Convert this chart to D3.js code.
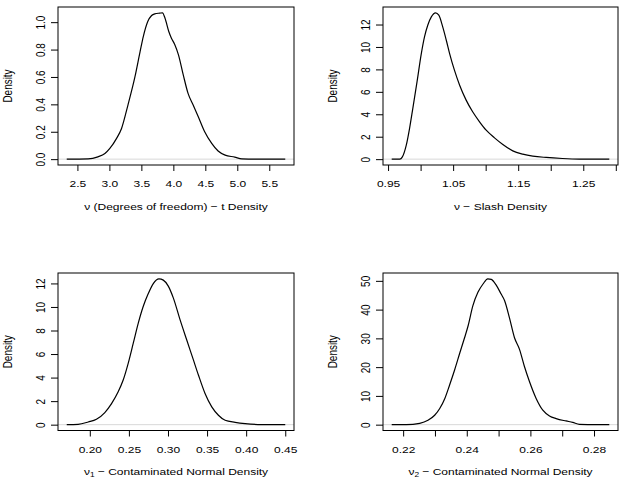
<!DOCTYPE html>
<html>
<head>
<meta charset="utf-8">
<script src="https://cdn.jsdelivr.net/npm/d3@7"></script>
<style>
  html, body { margin: 0; padding: 0; background: #fff; }
  svg { display: block; }
  text { font-family: "Liberation Sans", Arial, Helvetica, sans-serif; fill: #000; }
</style>
</head>
<body>
<svg id="chart" width="625" height="482"></svg>
<script>
// ---------- DATA ----------
// Panel 1: nu (degrees of freedom) - t density
const tX = [2.333, 2.667, 2.82, 2.93, 3.007, 3.11, 3.19, 3.29, 3.40, 3.48, 3.53, 3.60, 3.66, 3.71, 3.79, 3.83, 3.87, 3.93, 3.97, 4.02, 4.08, 4.155, 4.23, 4.31, 4.39, 4.49, 4.60, 4.70, 4.81, 4.96, 5.07, 5.28, 5.75];
const tY = [0.000, 0.002, 0.017, 0.041, 0.078, 0.150, 0.224, 0.395, 0.602, 0.785, 0.895, 1.005, 1.049, 1.061, 1.066, 1.068, 1.029, 0.930, 0.883, 0.839, 0.761, 0.615, 0.480, 0.395, 0.310, 0.200, 0.115, 0.059, 0.029, 0.015, 0.002, 0.000, 0.000];
const tTicksX = [2.5, 3.0, 3.5, 4.0, 4.5, 5.0, 5.5];
const tLabelsX = ["2.5", "3.0", "3.5", "4.0", "4.5", "5.0", "5.5"];
const tTicksY = [0, 0.2, 0.4, 0.6, 0.8, 1.0];
const tLabelsY = ["0.0", "0.2", "0.4", "0.6", "0.8", "1.0"];

// Panel 2: nu - slash density
const slashX = [0.9556, 0.968, 0.972, 0.978, 0.983, 0.988, 0.9945, 1.0011, 1.006, 1.011, 1.0165, 1.023, 1.028, 1.034, 1.0395, 1.0446, 1.052, 1.060, 1.070, 1.080, 1.0906, 1.1008, 1.1136, 1.1264, 1.1417, 1.157, 1.1724, 1.193, 1.218, 1.244, 1.29];
const slashY = [0, 0, 0.2, 1.25, 2.73, 4.51, 6.89, 9.41, 10.9, 11.94, 12.68, 13.04, 12.83, 11.79, 10.6, 9.41, 7.93, 6.59, 5.26, 4.22, 3.33, 2.58, 1.90, 1.31, 0.74, 0.45, 0.27, 0.15, 0.06, 0.01, 0];
const slashTicksX = [0.95, 1.00, 1.05, 1.10, 1.15, 1.20, 1.25, 1.30];
const slashLabelsX = ["0.95", "", "1.05", "", "1.15", "", "1.25", ""];
const slashTicksY = [0, 2, 4, 6, 8, 10, 12];
const slashLabelsY = ["0", "2", "4", "6", "8", "10", "12"];

// Panel 3: nu1 - contaminated normal density
const cn1X = [0.1705, 0.185, 0.198, 0.2085, 0.2192, 0.2278, 0.2363, 0.2427, 0.2491, 0.2556, 0.262, 0.2684, 0.2748, 0.2812, 0.2885, 0.294, 0.3004, 0.3068, 0.3154, 0.3239, 0.3325, 0.3389, 0.3474, 0.356, 0.3645, 0.3731, 0.3859, 0.3987, 0.42, 0.45];
const cn1Y = [0, 0.03, 0.23, 0.46, 1.03, 1.79, 2.79, 3.79, 5.21, 6.92, 8.63, 10.06, 11.14, 11.99, 12.39, 12.28, 11.77, 10.77, 8.92, 7.21, 5.50, 4.22, 2.65, 1.51, 0.80, 0.37, 0.20, 0.09, 0.01, 0];
const cn1TicksX = [0.20, 0.25, 0.30, 0.35, 0.40, 0.45];
const cn1LabelsX = ["0.20", "0.25", "0.30", "0.35", "0.40", "0.45"];
const cn1TicksY = [0, 2, 4, 6, 8, 10, 12];
const cn1LabelsY = ["0", "2", "4", "6", "8", "10", "12"];

// Panel 4: nu2 - contaminated normal density
const cn2X = [0.2164, 0.221, 0.2252, 0.2278, 0.2299, 0.2315, 0.2331, 0.2346, 0.2362, 0.2378, 0.2393, 0.2404, 0.2419, 0.2435, 0.2451, 0.2466, 0.2477, 0.2493, 0.2508, 0.2519, 0.2534, 0.255, 0.2566, 0.2581, 0.2597, 0.2618, 0.2639, 0.266, 0.2681, 0.2712, 0.2733, 0.2754, 0.2806, 0.2848];
const cn2Y = [0, 0, 0.47, 1.52, 3.28, 5.62, 9.13, 13.8, 19.1, 24.9, 30.2, 34.3, 41.3, 46.0, 48.9, 50.7, 50.5, 48.4, 45.4, 43.1, 37.2, 30.2, 26.1, 20.3, 15.0, 9.13, 5.04, 3.04, 2.11, 1.29, 0.82, 0.12, 0, 0];
const cn2TicksX = [0.22, 0.23, 0.24, 0.25, 0.26, 0.27, 0.28];
const cn2LabelsX = ["0.22", "", "0.24", "", "0.26", "", "0.28"];
const cn2TicksY = [0, 10, 20, 30, 40, 50];
const cn2LabelsY = ["0", "10", "20", "30", "40", "50"];

const yTitle = "Density";

// ---------- LAYOUT ----------
const SY = 0.83; // vertical text squash
const svg = d3.select("#chart");

const panels = [
  { x: tX, y: tY, xt: tTicksX, xl: tLabelsX, yt: tTicksY, yl: tLabelsY,
    box: [58, 294, 7, 165], title: [{t: "ν (Degrees of freedom) − t Density"}] },
  { x: slashX, y: slashY, xt: slashTicksX, xl: slashLabelsX, yt: slashTicksY, yl: slashLabelsY,
    box: [383, 618, 7, 165], title: [{t: "ν − Slash Density"}] },
  { x: cn1X, y: cn1Y, xt: cn1TicksX, xl: cn1LabelsX, yt: cn1TicksY, yl: cn1LabelsY,
    box: [58, 294, 273, 430.5], title: [{t: "ν"}, {t: "1", sub: true}, {t: " − Contaminated Normal Density"}] },
  { x: cn2X, y: cn2Y, xt: cn2TicksX, xl: cn2LabelsX, yt: cn2TicksY, yl: cn2LabelsY,
    box: [383, 618, 273, 430.5], title: [{t: "ν"}, {t: "2", sub: true}, {t: " − Contaminated Normal Density"}] }
];

function padded(ext) {
  const r = ext[1] - ext[0];
  return [ext[0] - 0.04 * r, ext[1] + 0.04 * r];
}

panels.forEach(p => {
  const [x0, x1, y0, y1] = p.box;
  const data = p.x.map((v, i) => [v, p.y[i]]);
  const xs = d3.scaleLinear().domain(padded(d3.extent(p.x))).range([x0, x1]);
  const ys = d3.scaleLinear().domain(padded([0, d3.max(p.y)])).range([y1, y0]);

  const g = svg.append("g");

  // zero line (gray, as in plot.density)
  g.append("line")
    .attr("x1", x0).attr("x2", x1)
    .attr("y1", ys(0)).attr("y2", ys(0))
    .attr("stroke", "#bebebe").attr("stroke-width", 0.6);

  // curve
  const line = d3.line().x(d => xs(d[0])).y(d => ys(d[1])).curve(d3.curveMonotoneX);
  g.append("path").datum(data)
    .attr("d", line)
    .attr("fill", "none").attr("stroke", "#000").attr("stroke-width", 1.2)
    .attr("stroke-linejoin", "round");

  // box
  g.append("rect")
    .attr("x", x0).attr("y", y0).attr("width", x1 - x0).attr("height", y1 - y0)
    .attr("fill", "none").attr("stroke", "#000").attr("stroke-width", 1);

  // x axis
  const xa = g.append("g").attr("transform", `translate(0,${y1})`)
    .call(d3.axisBottom(xs).tickValues(p.xt)
      .tickFormat((d, i) => p.xl[i]).tickSize(6).tickSizeOuter(0));
  xa.select(".domain").remove();
  xa.selectAll("line").attr("stroke", "#000").attr("stroke-width", 1);
  xa.selectAll("text")
    .attr("y", null).attr("dy", null)
    .attr("transform", `translate(0,22.3) scale(1,${SY})`)
    .attr("text-anchor", "middle")
    .style("font-size", "12px").style("font-family", null).attr("font-family", null).attr("fill", "#000");
  xa.attr("font-family", null).attr("font-size", null);

  // y axis
  const ya = g.append("g").attr("transform", `translate(${x0},0)`)
    .call(d3.axisLeft(ys).tickValues(p.yt)
      .tickFormat((d, i) => p.yl[i]).tickSize(7).tickSizeOuter(0));
  ya.select(".domain").remove();
  ya.selectAll("line").attr("stroke", "#000").attr("stroke-width", 1);
  ya.selectAll("text")
    .attr("x", null).attr("dy", null)
    .attr("transform", `translate(-13,0) scale(1,${SY}) rotate(-90)`)
    .attr("text-anchor", "middle")
    .style("font-size", "12px").attr("fill", "#000");
  ya.attr("font-family", null).attr("font-size", null);

  // x title
  const xt = g.append("text")
    .attr("transform", `translate(${(x0 + x1) / 2},${y1 + 44.5}) scale(1,${SY})`)
    .attr("text-anchor", "middle").style("font-size", "12px");
  p.title.forEach(part => {
    const ts = xt.append("tspan").text(part.t);
    if (part.sub) ts.style("font-size", "8.4px").attr("dy", 3);
    else if (xt.selectAll("tspan").size() > 1) ts.attr("dy", -3);
  });

  // y title
  g.append("text")
    .attr("transform", `translate(${x0 - 45.7},${(y0 + y1) / 2}) scale(1,${SY}) rotate(-90)`)
    .attr("text-anchor", "middle").style("font-size", "12px")
    .text(yTitle);
});
</script>
</body>
</html>
